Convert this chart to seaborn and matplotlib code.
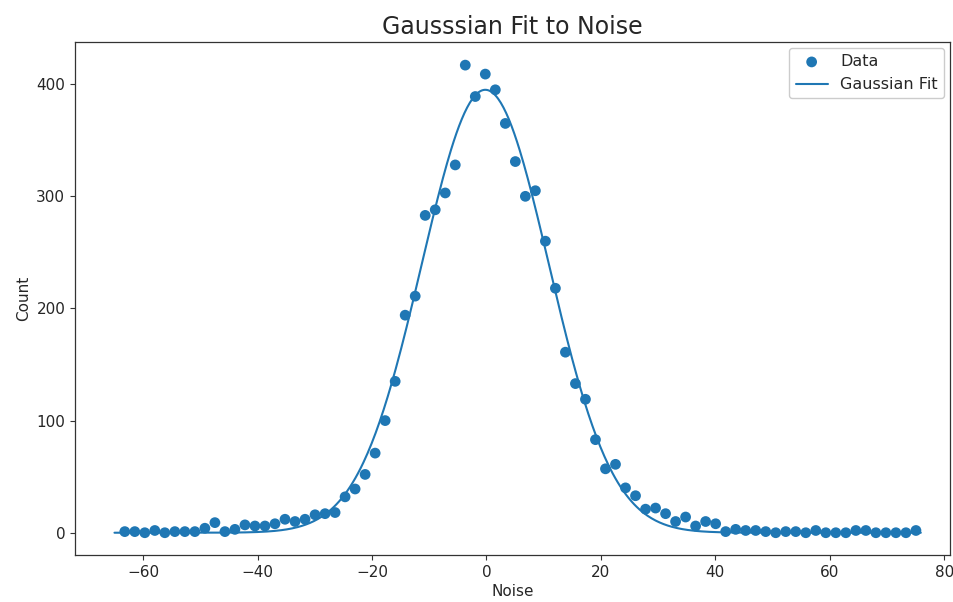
import numpy as np
import pandas as pd
import matplotlib
matplotlib.use("Agg")
import matplotlib.pyplot as plt
import seaborn as sns

# Histogram bin centres of the noise samples and their counts
noise_bins = [
    -63.20, -61.45, -59.70, -57.95, -56.20, -54.45, -52.70, -50.95, -49.20, -47.45,
    -45.70, -43.95, -42.20, -40.45, -38.70, -36.95, -35.20, -33.45, -31.70, -29.95,
    -28.20, -26.45, -24.70, -22.95, -21.20, -19.45, -17.70, -15.95, -14.20, -12.45,
    -10.70, -8.95, -7.20, -5.45, -3.70, -1.95, -0.20, 1.55, 3.30, 5.05,
    6.80, 8.55, 10.30, 12.05, 13.80, 15.55, 17.30, 19.05, 20.80, 22.55,
    24.30, 26.05, 27.80, 29.55, 31.30, 33.05, 34.80, 36.55, 38.30, 40.05,
    41.80, 43.55, 45.30, 47.05, 48.80, 50.55, 52.30, 54.05, 55.80, 57.55,
    59.30, 61.05, 62.80, 64.55, 66.30, 68.05, 69.80, 71.55, 73.30, 75.05,
]
counts = [
    1, 1, 0, 2, 0, 1, 1, 1, 4, 9,
    1, 3, 7, 6, 6, 8, 12, 10, 12, 16,
    17, 18, 32, 39, 52, 71, 100, 135, 194, 211,
    283, 288, 303, 328, 417, 389, 409, 395, 365, 331,
    300, 305, 260, 218, 161, 133, 119, 83, 57, 61,
    40, 33, 21, 22, 17, 10, 14, 6, 10, 8,
    1, 3, 2, 2, 1, 0, 1, 1, 0, 2,
    0, 0, 0, 2, 2, 0, 0, 0, 0, 2,
]

# Fitted Gaussian parameters: amplitude, mean, standard deviation
fit_amp = 395.0
fit_mu = -0.2
fit_sigma = 11.1
fit_range = (-65.0, 75.9)

data = pd.DataFrame({"Noise": noise_bins, "Count": counts})
x_fit = np.linspace(fit_range[0], fit_range[1], 600)
fit = pd.DataFrame({
    "Noise": x_fit,
    "Count": fit_amp * np.exp(-0.5 * ((x_fit - fit_mu) / fit_sigma) ** 2),
})

sns.set_style("ticks")
plt.rcParams["font.family"] = ["DejaVu Sans"]

fig = plt.figure(figsize=(9.54, 6.02), dpi=100)
ax = fig.add_axes([0.0786, 0.078, 0.9172, 0.852])

blue = "#1f77b4"
sns.scatterplot(data=data, x="Noise", y="Count", ax=ax, color=blue,
                s=60, edgecolor="none", label="Data", zorder=3)
sns.lineplot(data=fit, x="Noise", y="Count", ax=ax, color=blue,
             linewidth=1.5, label="Gaussian Fit", zorder=2)

ax.set_xlim(-71.9, 81.0)
ax.set_ylim(-19.9, 437.5)
ax.set_xticks([-60, -40, -20, 0, 20, 40, 60, 80])
ax.set_yticks([0, 100, 200, 300, 400])
ax.set_xlabel("Noise", fontsize=11, labelpad=3)
ax.set_ylabel("Count", fontsize=11)
ax.set_title("Gausssian Fit to Noise", fontsize=17, pad=6)
ax.tick_params(labelsize=11, length=3.5, width=0.8, color="#333333")
for side in ["top", "right", "bottom", "left"]:
    ax.spines[side].set_visible(True)
    ax.spines[side].set_color("#333333")
    ax.spines[side].set_linewidth(0.9)

ax.legend(loc="upper right", fontsize=11.5, frameon=True, edgecolor="#cccccc",
          fancybox=True, framealpha=1.0, handlelength=2.0,
          borderaxespad=0.35)

fig.savefig("out.png", dpi=100, facecolor="white")
